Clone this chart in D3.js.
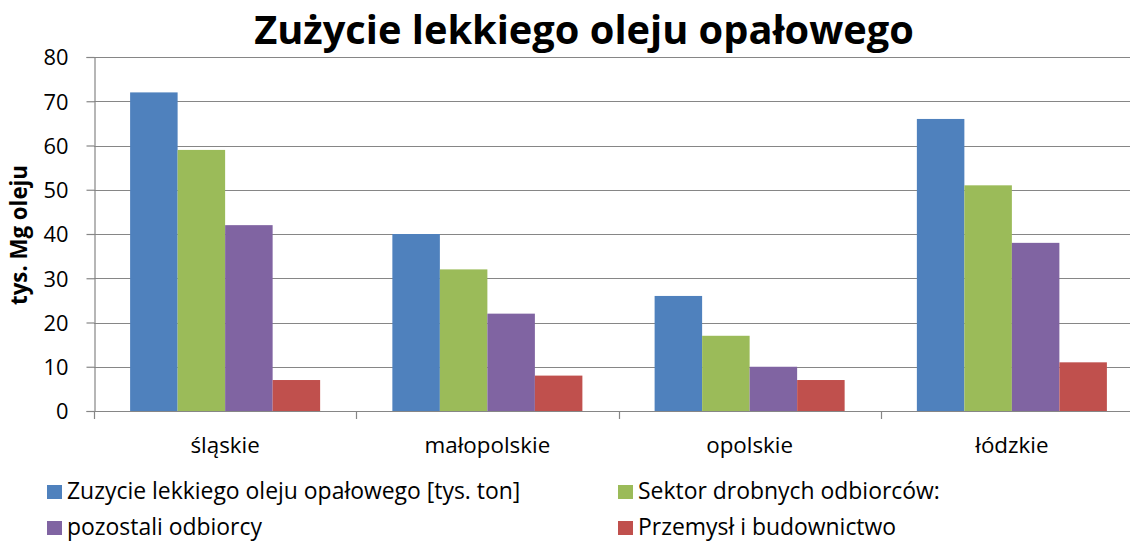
<!DOCTYPE html>
<html><head><meta charset="utf-8">
<script src="https://cdn.jsdelivr.net/npm/d3@7"></script>
<style>body{margin:0;background:#fff}svg{display:block;font-family:"Open Sans",sans-serif}</style>
</head><body><svg id="c" width="1130" height="543"></svg>
<script>
const categories = ["śląskie","małopolskie","opolskie","łódzkie"];
const seriesNames = ["Zuzycie lekkiego oleju opałowego [tys. ton]","Sektor drobnych odbiorców:","pozostali odbiorcy","Przemysł i budownictwo"];
const total = [72,40,26,66];
const drobni = [59,32,17,51];
const pozostali = [42,22,10,38];
const przemysl = [7,8,7,11];
const yTicks = [0,10,20,30,40,50,60,70,80];
const colors = ["#4F81BD","#9BBB59","#8064A2","#C0504D"];
const series = [total, drobni, pozostali, przemysl];

const svg = d3.select("#c");
const W = 1130, L = 94, R = 1143, T = 57, B = 411;
const x = d3.scaleBand().domain(categories).range([L,R]).paddingInner(0.2754).paddingOuter(0.1377);
const x1 = d3.scaleBand().domain(d3.range(4)).range([0,x.bandwidth()]);
const y = d3.scaleLinear().domain([0,80]).range([B,T]);

function fit(sel, target){
  const n = sel.node(); const fs = +sel.attr("font-size");
  const w = n.getComputedTextLength();
  sel.attr("font-size", fs*target/w);
  return fs*target/w;
}

// gridlines
svg.append("g").selectAll("line").data(yTicks.filter(d=>d>0)).join("line")
  .attr("x1",L).attr("x2",W).attr("y1",d=>Math.round(y(d))+0.5).attr("y2",d=>Math.round(y(d))+0.5)
  .attr("stroke","#868686").attr("stroke-width",1.2);

// bars
const g = svg.append("g");
series.forEach((s,i)=>{
  g.selectAll(null).data(categories).join("rect")
   .attr("x",c=>x(c)+x1(i)).attr("width",x1.bandwidth())
   .attr("y",(c,j)=>y(s[j])).attr("height",(c,j)=>B-y(s[j]))
   .attr("fill",colors[i]);
});

// y axis
const ya = svg.append("g").attr("transform",`translate(${L+0.5},0)`)
  .call(d3.axisLeft(y).tickValues(yTicks).tickSize(8).tickPadding(0));
ya.select(".domain").attr("stroke","#868686").attr("stroke-width",1.2);
ya.selectAll(".tick line").attr("stroke","#868686").attr("stroke-width",1.2);
const tt = ya.selectAll(".tick text").attr("font-size",19).attr("fill","#000").attr("font-family","\"Open Sans\",sans-serif")
  .attr("x",-26).attr("dy","0.36em");
{
  const fs = fit(ya.selectAll(".tick text").filter(d=>d===80), 25);
  tt.attr("font-size", fs);
}

// x axis
svg.append("line").attr("x1",L).attr("x2",W).attr("y1",B+0.5).attr("y2",B+0.5).attr("stroke","#868686").attr("stroke-width",1.2);
const bounds = categories.map(c=>x(c)-x.step()*x.paddingInner()/2);
svg.append("g").selectAll("line").data(bounds).join("line")
  .attr("x1",d=>Math.round(d)+0.5).attr("x2",d=>Math.round(d)+0.5).attr("y1",B).attr("y2",B+8)
  .attr("stroke","#868686").attr("stroke-width",1.2);
const cl = svg.append("g").selectAll("text").data(categories).join("text")
  .attr("x",c=>x(c)+x.bandwidth()/2).attr("y",453).attr("text-anchor","middle")
  .attr("font-size",19).text(c=>c);
{
  const fs = fit(cl.filter(c=>c==="opolskie"), 87);
  cl.attr("font-size", fs);
}

// title
const title = svg.append("text").attr("x",584).attr("y",44).attr("text-anchor","middle")
  .attr("font-size",35).attr("font-weight","bold").text("Zużycie lekkiego oleju opałowego");
fit(title, 660);

// y label
const yl = svg.append("text").attr("transform","translate(27,235) rotate(-90)").attr("text-anchor","middle")
  .attr("font-size",17).attr("font-weight","bold").text("tys. Mg oleju");
fit(yl, 140);

// legend
const lpos = [[47,499],[618,499],[47,535],[618,535]];
const lt = [];
seriesNames.forEach((n,i)=>{
  svg.append("rect").attr("x",lpos[i][0]).attr("y",lpos[i][1]-14).attr("width",15).attr("height",14).attr("fill",colors[i]);
  lt.push(svg.append("text").attr("x",lpos[i][0]+20).attr("y",lpos[i][1]).attr("font-size",19).text(n));
});
{
  const fs = fit(lt[1], 302);
  lt.forEach(t=>t.attr("font-size",fs));
}
</script></body></html>
